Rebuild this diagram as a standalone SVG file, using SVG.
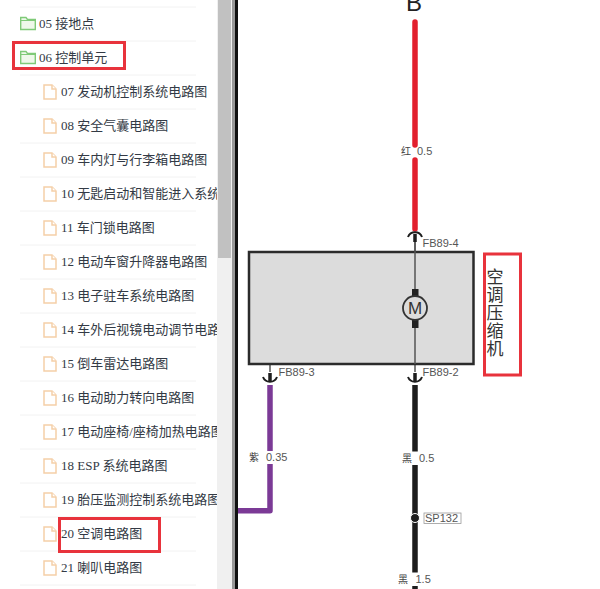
<svg xmlns="http://www.w3.org/2000/svg" width="600" height="589" viewBox="0 0 600 589">
<style>
.t{font-family:"Liberation Serif","Noto Sans CJK SC",serif;font-size:13px;fill:#333a45}
.c{font-family:"Noto Sans CJK SC","Liberation Sans",sans-serif;font-size:10px;fill:#444}
.l{font-family:"Liberation Sans","Noto Sans CJK SC",sans-serif;font-size:11px;fill:#555}
.r{fill:none;stroke:#e8333c;stroke-width:3}
.d{stroke:#f2f2f2;stroke-width:1}
.f{fill:#fff;stroke:#f5cfa8;stroke-width:1.5}
.g{fill:#eef8ea;stroke:#7fca78;stroke-width:1.4}
.w{fill:none;stroke-width:5.500}
.h{fill:none;stroke:#1d1d1d;stroke-width:2}
</style>
<defs>
<symbol id="file" viewBox="0 0 14 16" overflow="visible"><path class="f" d="M1 1H9L13 5V15H1Z"/><path class="f" d="M9 1V5H13" fill="none"/></symbol>
<symbol id="folder" viewBox="0 0 16 14" overflow="visible"><path class="g" d="M.7 13V1H6L7.500 3H15.300V13Z"/><path d="M.7 4H15.300" stroke="#7fca78" fill="none"/></symbol>
</defs>
<rect width="600" height="589" fill="#fff"/>
<g id="dividers">
<path class="d" d="M20 7H196M20 41H196M20 75H196M20 109H196M20 143H196M20 177H196M20 211H196M20 245H196M20 279H196M20 313H196M20 347H196M20 381H196M20 415H196M20 449H196M20 483H196M20 517H196M20 551H196M20 585H196"/>
</g>
<g id="tree">
<use href="#folder" x="20" y="16.500" width="16" height="14"/><text class="t" x="39" y="28">05 接地点</text>
<use href="#folder" x="20" y="50.500" width="16" height="14"/><text class="t" x="39" y="62">06 控制单元</text>
<use href="#file" x="43" y="84" width="14" height="16"/><text class="t" x="61" y="96">07 发动机控制系统电路图</text>
<use href="#file" x="43" y="118" width="14" height="16"/><text class="t" x="61" y="130">08 安全气囊电路图</text>
<use href="#file" x="43" y="152" width="14" height="16"/><text class="t" x="61" y="164">09 车内灯与行李箱电路图</text>
<use href="#file" x="43" y="186" width="14" height="16"/><text class="t" x="61" y="198">10 无匙启动和智能进入系统</text>
<use href="#file" x="43" y="220" width="14" height="16"/><text class="t" x="61" y="232">11 车门锁电路图</text>
<use href="#file" x="43" y="254" width="14" height="16"/><text class="t" x="61" y="266">12 电动车窗升降器电路图</text>
<use href="#file" x="43" y="288" width="14" height="16"/><text class="t" x="61" y="300">13 电子驻车系统电路图</text>
<use href="#file" x="43" y="322" width="14" height="16"/><text class="t" x="61" y="334">14 车外后视镜电动调节电路</text>
<use href="#file" x="43" y="356" width="14" height="16"/><text class="t" x="61" y="368">15 倒车雷达电路图</text>
<use href="#file" x="43" y="390" width="14" height="16"/><text class="t" x="61" y="402">16 电动助力转向电路图</text>
<use href="#file" x="43" y="424" width="14" height="16"/><text class="t" x="61" y="436">17 电动座椅/座椅加热电路图</text>
<use href="#file" x="43" y="458" width="14" height="16"/><text class="t" x="61" y="470">18 ESP 系统电路图</text>
<use href="#file" x="43" y="492" width="14" height="16"/><text class="t" x="61" y="504">19 胎压监测控制系统电路图</text>
<use href="#file" x="43" y="526" width="14" height="16"/><text class="t" x="61" y="538">20 空调电路图</text>
<use href="#file" x="43" y="560" width="14" height="16"/><text class="t" x="61" y="572">21 喇叭电路图</text>
</g>
<g id="scrollbar">
<rect x="217" y="0" width="15" height="589" fill="#f0f0f0"/>
<rect x="218" y="0" width="13" height="258" fill="#c1c1c1"/>
<rect x="232" y="0" width="3" height="589" fill="#999"/>
<rect x="235" y="0" width="3" height="589" fill="#111"/>
</g>
<g id="connectors">
<path class="w" stroke="#e21f2d" stroke-linecap="round" d="M415 22V145M415 160V229"/>
<path class="w" stroke="#1d1d1d" d="M415 385V451.500M415 465V572.500M415 586V589"/>
<path class="w" stroke="#7b3a96" stroke-linejoin="round" d="M270 385V451M270 464V510.700H238"/>
<path fill="none" stroke="#555" stroke-width="1.500" d="M415 238V372M270 364V372"/>
<path class="h" d="M408 237a7.500 7.500 0 0 1 14 0M408 377a7.500 7.500 0 0 0 14 0M263 377a7.500 7.500 0 0 0 14 0"/>
<path stroke="#1d1d1d" stroke-width="3.500" d="M415 234V242M415 373V381M270 373V381"/>
</g>
<g id="compressor">
<rect x="249" y="252" width="224.500" height="112" fill="#dcdcdc" stroke="#2b2b2b" stroke-width="2.500"/>
<path fill="none" stroke="#555" stroke-width="1.500" d="M415 242V364"/>
<rect x="412" y="289" width="6.500" height="39" fill="#222"/>
<circle cx="415" cy="308" r="12" fill="#dcdcdc" stroke="#333" stroke-width="1.800"/>
<text x="415" y="314" text-anchor="middle" font-family="Liberation Sans, sans-serif" font-size="17" fill="#333">M</text>
</g>
<g id="labels">
<text x="406" y="11" font-family="Liberation Sans, sans-serif" font-size="24" fill="#222">B</text>
<text class="c" x="401" y="155">红</text><text class="l" x="417" y="155">0.5</text>
<text class="l" x="422.500" y="247">FB89-4</text>
<text class="l" x="278.500" y="376">FB89-3</text>
<text class="l" x="422.500" y="376">FB89-2</text>
<text class="c" x="249" y="461">紫</text><text class="l" x="266" y="461">0.35</text>
<text class="c" x="402" y="462">黑</text><text class="l" x="419" y="462">0.5</text>
<circle cx="415" cy="518" r="4.500" fill="#1d1d1d" stroke="#fff" stroke-width="1"/>
<rect x="424" y="513" width="37" height="10.500" fill="#fff" stroke="#999" stroke-width=".8"/>
<text class="l" x="425" y="522">SP132</text>
<text class="c" x="398" y="583">黑</text><text class="l" x="415.500" y="583">1.5</text>
<text x="495" y="268" font-family="Noto Sans CJK SC, sans-serif" font-size="17" letter-spacing="1" fill="#333" style="writing-mode:vertical-rl">空调压缩机</text>
</g>
<g id="highlights">
<rect class="r" x="13.500" y="42.500" width="111" height="26"/>
<rect class="r" x="59.500" y="518.500" width="100" height="33"/>
<rect class="r" x="484.500" y="254" width="36" height="121"/>
</g>
</svg>
